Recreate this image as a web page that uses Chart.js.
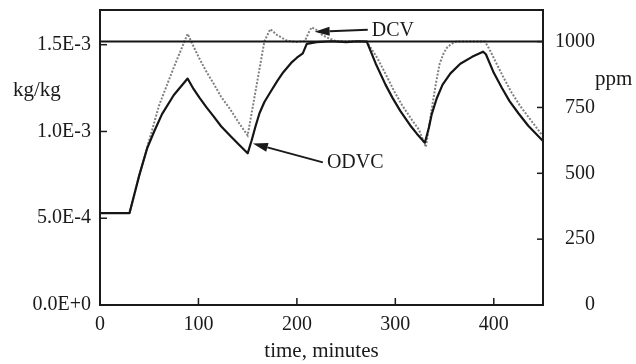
<!DOCTYPE html>
<html>
<head>
<meta charset="utf-8">
<style>html,body{margin:0;padding:0;background:#fff;}canvas{display:block;}</style>
<script src="https://cdn.jsdelivr.net/npm/chart.js@4.4.1/dist/chart.umd.min.js"></script>
</head>
<body>
<canvas id="c" width="636" height="364"></canvas>
<script>
// ---- data (time in minutes, concentration in kg/kg) ----
const xTicks = [0, 100, 200, 300, 400];
const leftTicks = [0, 5e-4, 1e-3, 1.5e-3];
const leftTickLabels = ['0.0E+0', '5.0E-4', '1.0E-3', '1.5E-3'];
const rightTicks = [0, 250, 500, 750, 1000];
const rightTickLabels = ['0', '250', '500', '750', '1000'];

const odvcTime = [0, 30, 40, 48, 55, 63, 75, 89, 95, 101, 108, 115, 123, 132, 141, 150, 154, 158, 162, 167, 173, 180, 186, 195, 200, 206, 210, 220, 235, 250, 262, 271, 280, 290, 297, 305, 315, 322, 330, 334, 337, 342, 348, 356, 366, 378, 389, 392, 400, 408, 416, 425, 435, 450];
const odvcValue = [5.3e-4, 5.3e-4, 7.5e-4, 9.05e-4, 1.0e-3, 1.10e-3, 1.21e-3, 1.305e-3, 1.245e-3, 1.195e-3, 1.14e-3, 1.09e-3, 1.03e-3, 9.77e-4, 9.25e-4, 8.74e-4, 9.48e-4, 1.03e-3, 1.105e-3, 1.17e-3, 1.226e-3, 1.29e-3, 1.34e-3, 1.40e-3, 1.425e-3, 1.45e-3, 1.505e-3, 1.515e-3, 1.52e-3, 1.515e-3, 1.52e-3, 1.518e-3, 1.392e-3, 1.27e-3, 1.195e-3, 1.119e-3, 1.036e-3, 9.86e-4, 9.35e-4, 1.02e-3, 1.10e-3, 1.19e-3, 1.27e-3, 1.335e-3, 1.39e-3, 1.43e-3, 1.46e-3, 1.445e-3, 1.338e-3, 1.253e-3, 1.175e-3, 1.105e-3, 1.033e-3, 9.45e-4];

const dcvTime = [0, 30, 40, 48, 60, 75, 89, 95, 101, 108, 115, 123, 132, 141, 150, 167, 173, 180, 190, 200, 208, 212, 215, 220, 226, 233, 240, 255, 271, 282, 292, 299, 307, 317, 324, 331, 334, 337, 341, 345, 349, 352, 357, 362, 375, 391, 395, 402, 410, 418, 427, 437, 450];
const dcvValue = [5.3e-4, 5.3e-4, 7.5e-4, 9.1e-4, 1.15e-3, 1.37e-3, 1.563e-3, 1.49e-3, 1.42e-3, 1.345e-3, 1.28e-3, 1.20e-3, 1.13e-3, 1.05e-3, 9.77e-4, 1.52e-3, 1.59e-3, 1.555e-3, 1.523e-3, 1.515e-3, 1.52e-3, 1.57e-3, 1.60e-3, 1.585e-3, 1.555e-3, 1.535e-3, 1.52e-3, 1.518e-3, 1.518e-3, 1.42e-3, 1.31e-3, 1.23e-3, 1.15e-3, 1.065e-3, 1.01e-3, 9.1e-4, 1.02e-3, 1.13e-3, 1.27e-3, 1.39e-3, 1.45e-3, 1.48e-3, 1.505e-3, 1.518e-3, 1.518e-3, 1.518e-3, 1.48e-3, 1.40e-3, 1.31e-3, 1.225e-3, 1.145e-3, 1.07e-3, 9.72e-4];

const setpointPpm = 1000;

// ---- annotation config (data coordinates) ----
const annotations = [
  { text: 'DCV',  tip: [218, 1.575e-3], tail: [272, 1.586e-3], label: [276, 1.552e-3] },
  { text: 'ODVC', tip: [155.3, 9.31e-4], tail: [226.4, 8.22e-4], label: [230.5, 7.87e-4] }
];

const FONT = '"Liberation Serif", "DejaVu Serif", serif';
const INK = '#1a1a1a';

const framePlugin = {
  id: 'frame',
  afterDraw(chart) {
    const { ctx, chartArea: a, scales } = chart;
    const x = scales.x, y = scales.y, y2 = scales.y2;
    ctx.save();
    ctx.strokeStyle = INK;
    ctx.lineWidth = 2;
    ctx.strokeRect(a.left, a.top, a.right - a.left, a.bottom - a.top);
    ctx.lineWidth = 1.5;
    xTicks.forEach(v => {
      const p = x.getPixelForValue(v);
      ctx.beginPath(); ctx.moveTo(p, a.bottom); ctx.lineTo(p, a.bottom - 7); ctx.stroke();
    });
    leftTicks.forEach(v => {
      const p = y.getPixelForValue(v);
      ctx.beginPath(); ctx.moveTo(a.left, p); ctx.lineTo(a.left + 7, p); ctx.stroke();
    });
    rightTicks.forEach(v => {
      const p = y2.getPixelForValue(v);
      ctx.beginPath(); ctx.moveTo(a.right, p); ctx.lineTo(a.right - 6, p); ctx.stroke();
    });
    // horizontal axis titles
    ctx.fillStyle = INK;
    ctx.textBaseline = 'alphabetic';
    ctx.textAlign = 'left';
    ctx.font = '21px ' + FONT;
    ctx.fillText('kg/kg', 13, 96);
    ctx.fillText('ppm', 595, 85);
    // annotations
    ctx.font = '20px ' + FONT;
    ctx.lineWidth = 2;
    annotations.forEach(an => {
      const tx = x.getPixelForValue(an.tip[0]), ty = y.getPixelForValue(an.tip[1]);
      const sx = x.getPixelForValue(an.tail[0]), sy = y.getPixelForValue(an.tail[1]);
      const ang = Math.atan2(sy - ty, sx - tx);
      const L = 15, W = 4.5;
      const bx = tx + Math.cos(ang) * L, by = ty + Math.sin(ang) * L;
      ctx.beginPath(); ctx.moveTo(sx, sy); ctx.lineTo(bx, by); ctx.stroke();
      ctx.beginPath();
      ctx.moveTo(tx, ty);
      ctx.lineTo(bx - Math.sin(ang) * W, by + Math.cos(ang) * W);
      ctx.lineTo(bx + Math.sin(ang) * W, by - Math.cos(ang) * W);
      ctx.closePath(); ctx.fill();
      ctx.fillText(an.text, x.getPixelForValue(an.label[0]), y.getPixelForValue(an.label[1]));
    });
    ctx.restore();
  }
};

const pts = (ts, vs) => ts.map((t, i) => ({ x: t, y: vs[i] }));

new Chart(document.getElementById('c'), {
  type: 'line',
  data: {
    datasets: [
      { label: 'ODVC', data: pts(odvcTime, odvcValue), yAxisID: 'y', borderColor: '#151515', borderWidth: 2.2, pointRadius: 0, fill: false, tension: 0, borderJoinStyle: 'round' },
      { label: 'Setpoint', data: [{ x: 0, y: setpointPpm }, { x: 450, y: setpointPpm }], yAxisID: 'y2', borderColor: '#151515', borderWidth: 2, pointRadius: 0, fill: false },
      { label: 'DCV', data: pts(dcvTime, dcvValue), yAxisID: 'y', borderColor: '#808080', borderWidth: 2, borderDash: [2, 1.6], pointRadius: 0, fill: false, tension: 0 }
    ]
  },
  options: {
    responsive: false,
    animation: false,
    devicePixelRatio: 1,
    layout: { padding: { top: 10, left: 0, right: 41, bottom: 0 } },
    plugins: { legend: { display: false }, tooltip: { enabled: false } },
    scales: {
      x: {
        type: 'linear', min: 0, max: 450,
        afterBuildTicks: s => { s.ticks = xTicks.map(v => ({ value: v })); },
        grid: { display: false, drawTicks: false },
        border: { display: false },
        ticks: { padding: 8, color: INK, font: { family: FONT, size: 20 }, maxRotation: 0, autoSkip: false, callback: v => String(v) },
        title: { display: true, text: 'time, minutes', color: INK, font: { family: FONT, size: 21 }, padding: 0 },
        afterFit: s => { s.height = 59; s.paddingLeft = 0; s.paddingRight = 0; }
      },
      y: {
        position: 'left', min: 0, max: 1.7e-3,
        afterBuildTicks: s => { s.ticks = leftTicks.map(v => ({ value: v })); },
        grid: { display: false, drawTicks: false },
        border: { display: false },
        ticks: { padding: 9, color: INK, font: { family: FONT, size: 20 }, autoSkip: false, callback: v => leftTickLabels[leftTicks.indexOf(v)] },
        afterFit: s => { s.width = 100; s.paddingTop = 0; s.paddingBottom = 0; }
      },
      y2: {
        position: 'right', min: 0, max: 1120,
        afterBuildTicks: s => { s.ticks = rightTicks.map(v => ({ value: v })); },
        grid: { display: false, drawTicks: false },
        border: { display: false },
        ticks: { padding: 12, crossAlign: 'far', color: INK, font: { family: FONT, size: 20 }, autoSkip: false, callback: v => rightTickLabels[rightTicks.indexOf(v)] },
        afterFit: s => { s.width = 52; s.paddingTop = 0; s.paddingBottom = 0; }
      }
    }
  },
  plugins: [framePlugin]
});
</script>
</body>
</html>
